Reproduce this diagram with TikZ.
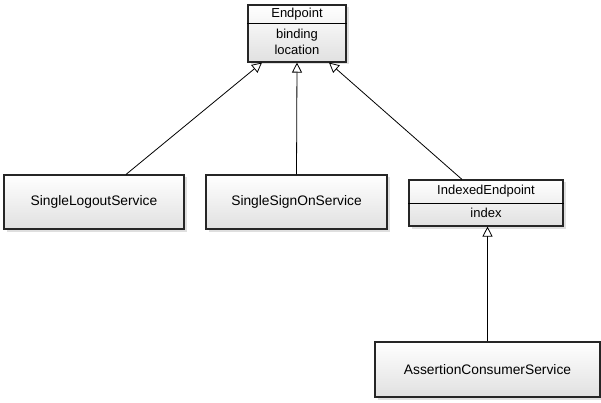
\documentclass[tikz,border=0pt]{standalone}
\usepackage{fontspec}
\setmainfont{Liberation Sans}
\usetikzlibrary{arrows.meta,shadows,calc}

\tikzset{
  umlbox/.style={draw=black!85, line width=1.1pt, rectangle,
    top color=white, bottom color=black!12,
    drop shadow={opacity=0.25, shadow xshift=2.5pt, shadow yshift=-2.5pt},
    inner sep=0pt},
  label/.style={font=\fontsize{13}{16}\selectfont, inner sep=0pt, align=center},
  biglabel/.style={label, font=\fontsize{13.8}{16}\selectfont},
  inherit/.style={draw=black, line width=0.8pt,
    -{Triangle[open, length=10pt, width=10pt, fill=white, line width=0.8pt]}},
}

\begin{document}
\begin{tikzpicture}[x=1pt, y=-1pt]
  \useasboundingbox (0,0) rectangle (601,403);

  % Endpoint class with its two attributes
  \node[umlbox, minimum width=98pt, minimum height=57pt] (ep) at (297,33.5) {};
  \draw[line width=1pt] (ep.west |- 0,24) -- (ep.east |- 0,24);
  \node[label] (epName) at (297,14) {Endpoint};
  \node[label] (epAttr) at (297,42) {binding\\location};

  % services using Endpoint directly
  \node[umlbox, minimum width=180pt, minimum height=54pt] (slo) at (94,202) {};
  \node[biglabel] (sloName) at (slo.center) {SingleLogoutService};

  \node[umlbox, minimum width=181pt, minimum height=54pt] (sso) at (296.5,202) {};
  \node[biglabel] (ssoName) at (sso.center) {SingleSignOnService};

  % IndexedEndpoint with its attribute
  \node[umlbox, minimum width=154pt, minimum height=46pt] (ie) at (486,203) {};
  \draw[line width=1pt] (ie.west |- 0,203) -- (ie.east |- 0,203);
  \node[label] (ieName) at (486,191.5) {IndexedEndpoint};
  \node[label] (ieAttr) at (486,213) {index};

  \node[umlbox, minimum width=225pt, minimum height=55pt] (acs) at (487.5,369.5) {};
  \node[biglabel] (acsName) at (acs.center) {AssertionConsumerService};

  % generalisation arrows
  \draw[inherit] ([xshift=32pt]slo.north) -- ([xshift=-35pt]ep.south);
  \draw[inherit] (sso.north) -- (ep.south);
  \draw[inherit] ([xshift=-24pt]ie.north) -- ([xshift=32pt]ep.south);
  \draw[inherit] (acs.north) -- (acs.north |- ie.south);
\end{tikzpicture}
\end{document}
